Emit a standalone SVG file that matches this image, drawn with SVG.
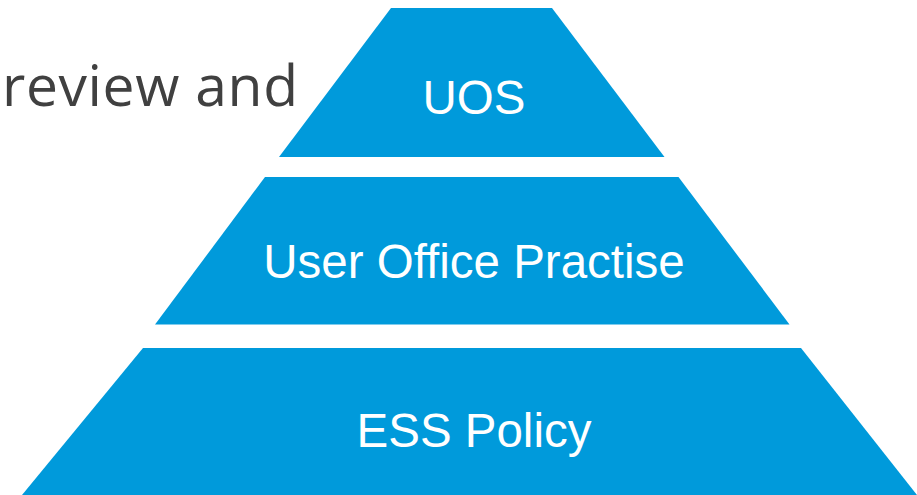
<svg xmlns="http://www.w3.org/2000/svg" width="917" height="495" viewBox="0 0 917 495">
<style>
.tier{fill:#009ADB;}
.lbl{font-family:"Liberation Sans",Arial,sans-serif;font-size:47.5px;fill:#FFFFFF;text-anchor:middle;}
.cap{font-family:"Open Sans","Noto Sans",sans-serif;font-size:57px;fill:#404040;}
</style>
<rect width="917" height="495" fill="#FFFFFF"/>
<text class="cap" x="2" y="106" textLength="296" lengthAdjust="spacing">review and</text>
<g id="tier-uos">
<polygon class="tier" points="391,8 552,8 664.5,157 279,157"/>
<text class="lbl" x="474" y="114">UOS</text>
</g>
<g id="tier-practise">
<polygon class="tier" points="265,177 678.5,177 789.5,324.5 155,324.5"/>
<text class="lbl" x="474" y="277.5">User Office Practise</text>
</g>
<g id="tier-policy">
<polygon class="tier" points="143,348 801,348 917,495 22,495"/>
<text class="lbl" x="474" y="447">ESS Policy</text>
</g>
<g id="connectors"/>
</svg>
